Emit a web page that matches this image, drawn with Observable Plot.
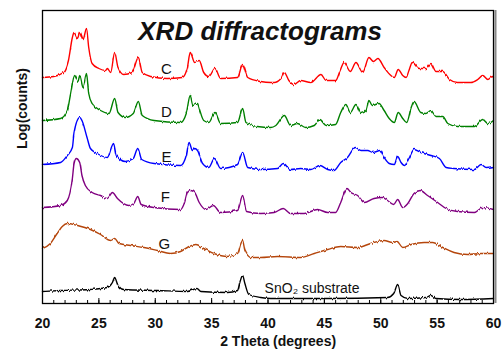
<!DOCTYPE html>
<html><head><meta charset="utf-8">
<script src="https://cdn.jsdelivr.net/npm/d3@7"></script>
<script src="https://cdn.jsdelivr.net/npm/@observablehq/plot@0.6"></script>
<style>
body{margin:0;background:#fff;}
#chart{position:relative;width:503px;height:354px;}
</style></head><body><div id="chart"></div>
<script>
// 2θ (degrees), stacked log(counts) in arbitrary units
const C = [[20,226],[21,227],[21.85,231],[22.3,243],[22.65,266],[22.8,271],[23.1,265],[23.3,271],[23.6,264],[23.9,275],[24.1,256],[24.4,240],[25,235],[25.6,233],[25.75,235],[26.05,231],[26.4,251],[26.7,236],[27.2,229],[27.95,231],[28.5,246],[28.85,231],[29.6,227],[31.05,225],[32.4,226],[32.85,236],[33.1,251],[33.5,241],[33.9,243],[34.3,231],[34.75,227],[35.3,235],[35.8,225],[37.3,226],[37.75,239],[38.2,226],[39.35,222],[40.25,221],[40.55,221],[41.15,225],[41.45,231],[41.85,223],[42.3,219],[42.9,223],[43.8,221],[44.7,229],[45.15,223],[46,223],[46.4,233],[46.75,241],[47.3,232],[47.8,241],[48.4,231],[48.95,246],[49.35,242],[49.75,245],[50.3,236],[50.9,228],[51.2,226],[51.55,234],[51.95,228],[52.25,226],[52.5,233],[52.8,241],[53.4,235],[54,235],[54.45,240],[54.9,232],[55.5,232],[56.1,224],[56.8,221],[58,221],[58.6,224],[59.05,228],[59.5,224],[59.9,227],[60,226]];
const D = [[20,183],[21.6,185],[22.2,193],[22.5,210],[22.85,228],[23.15,222],[23.3,228],[23.6,216],[23.9,230],[24.1,210],[24.4,200],[25.15,193],[25.9,190],[26.4,205],[26.7,191],[27.35,186],[28.05,190],[28.5,202],[28.85,188],[29.9,183],[32.25,181],[32.75,190],[33.1,208],[33.35,198],[33.75,200],[33.9,195],[34.3,183],[34.75,181],[35.3,191],[35.8,180],[37.3,181],[37.75,195],[38.05,181],[39.05,177],[40.25,176],[40.7,178],[41.45,188],[42,178],[42.6,180],[43.35,176],[44.1,178],[44.6,184],[45.15,178],[46,179],[46.45,191],[46.9,199],[47.3,191],[47.8,199],[48.25,190],[48.7,193],[48.95,203],[49.25,198],[49.85,200],[50.3,193],[50.75,185],[51.2,181],[51.55,191],[51.95,185],[52.3,181],[52.7,196],[52.95,202],[53.55,191],[54,190],[54.45,193],[54.9,187],[55.5,187],[55.95,180],[56.8,177],[58.3,177],[59.05,184],[59.5,180],[60,183]];
const E = [[20,139],[21.6,141],[22.2,148],[22.65,156],[22.8,171],[23.3,186],[23.5,183],[23.95,166],[24.25,155],[24.85,150],[25.75,146],[26.3,160],[26.55,148],[27.35,142],[28.05,145],[28.45,155],[28.8,144],[29.9,140],[32.25,138],[32.75,148],[33,161],[33.3,153],[33.5,155],[33.75,153],[34.2,140],[34.75,136],[35.25,145],[35.8,135],[37.3,139],[37.75,151],[38.2,136],[39.35,134],[40.85,135],[41.35,140],[42,134],[42.9,135],[43.8,134],[44.6,138],[45.3,134],[45.85,133],[46.45,141],[47.05,146],[47.75,156],[48.25,153],[48.85,153],[49.3,151],[49.95,153],[50.3,146],[50.75,140],[51.2,139],[51.5,147],[51.8,141],[52.1,138],[52.5,145],[52.95,154],[53.55,151],[54.45,148],[55.2,145],[55.8,136],[56.5,135],[58.3,134],[58.9,139],[59.35,136],[60,137]];
const F = [[20,96],[21.6,98],[22.2,103],[22.65,125],[22.8,140],[23,145],[23.3,141],[23.5,128],[23.8,118],[24.4,111],[25.15,108],[25.75,105],[26.2,111],[26.65,105],[27.65,98],[28.1,100],[28.45,107],[28.75,99],[29.9,96],[32.25,94],[32.6,101],[32.85,111],[33.15,113],[33.5,111],[33.9,101],[34.5,94],[35.15,98],[35.8,91],[37.3,93],[37.75,108],[38.1,92],[39.35,90],[40.55,91],[41.35,95],[42,90],[43.2,90],[44.4,94],[45.3,91],[46,91],[46.45,101],[47,115],[47.35,111],[47.95,108],[48.55,101],[49.4,105],[50.15,106],[50.6,103],[51.15,99],[51.5,104],[51.95,96],[52.4,100],[52.95,110],[53.5,113],[54.15,108],[55.05,101],[55.8,95],[56.8,92],[58.3,91],[59.05,96],[60,94]];
const G = [[20,55],[20.7,60],[21.3,70],[21.75,77],[22.2,80],[23.1,78],[24.25,74],[25.15,69],[26.05,63],[26.4,65],[26.8,60],[27.8,58],[29,56],[30.2,53],[31.35,50],[32.25,52],[33,57],[33.6,59],[34.3,55],[35.2,50],[36.4,47],[37.3,50],[37.6,60],[37.75,63],[37.95,53],[38.5,46],[39.35,46],[40.85,47],[42.9,46],[44.1,50],[45.3,54],[46.45,57],[47.95,56],[49.1,60],[50.3,63],[51.05,61],[51.45,62],[51.95,56],[52.7,59],[53.85,61],[54.6,61],[55.5,56],[56.5,51],[57.7,49],[58.9,50],[60,50]];
const SnO2 = [[20,12],[21.6,13],[24.25,14],[25.75,16],[26.2,21],[26.4,26],[26.7,18],[27.2,14],[30.2,13],[32.85,12],[33.7,15],[34.05,12],[36.4,11],[37.3,13],[37.5,21],[37.75,28],[37.95,20],[38.3,9],[39.35,6],[40.25,5],[42.3,5],[45.3,5],[50.6,6],[51.15,10],[51.5,19],[51.8,8],[52.4,5],[54,6],[54.45,8],[54.9,5],[57.1,4],[60,5]];

const seriesNames = ["C","D","E","F","G","SnO₂ substrate"];
const seriesColors = ["#ff0000","#008000","#0000ff","#800080","#b5460c","#000000"];
const seriesData = [C, D, E, F, G, SnO2];
const labelTheta = [31.0, 31.0, 31.0, 30.9, 30.8, 39.7];
const labelLevel = [234, 191, 146, 106, 59, 15];

const majorTicks = [20,25,30,35,40,45,50,55,60];
const minorTicks = [20,21,22,23,24,25,26,27,28,29,30,31,32,33,34,35,36,37,38,39,40,41,42,43,44,45,46,47,48,49,50,51,52,53,54,55,56,57,58,59,60];
const title = "XRD diffractograms";
const xLabel = "2 Theta (degrees)";
const yLabel = "Log(counts)";

const font = "Liberation Sans, Arial, Helvetica, sans-serif";

const lineMarks = seriesData.map((data, i) =>
  Plot.line(data, {x: d => d[0], y: d => d[1], stroke: seriesColors[i], strokeWidth: 1.4, curve: "monotone-x"})
);
const labels = seriesNames.map((n, i) => ({name: n, theta: labelTheta[i], level: labelLevel[i], last: i === seriesNames.length - 1}));

const chart = Plot.plot({
  width: 503, height: 354,
  marginLeft: 42, marginRight: 10, marginTop: 10, marginBottom: 51,
  style: {fontFamily: font, background: "#fff", overflow: "visible"},
  x: {domain: [20, 60], axis: null},
  y: {domain: [0, 293], axis: null},
  marks: [
    ...lineMarks,
    Plot.text(labels.filter(d => !d.last), {x: "theta", y: "level", text: "name", fontSize: 15, fill: "#111", textAnchor: "middle"}),
    Plot.text(labels.filter(d => d.last), {x: "theta", y: "level", text: "name", fontSize: 14, fill: "#111", textAnchor: "start"}),
    Plot.text([title], {x: 39.3, y: 272, text: d => d, fontSize: 26, fontWeight: "bold", fontStyle: "italic", fill: "#111"}),
    Plot.ruleX(minorTicks, {x: d => d, y1: 0, y2: 3, stroke: "#000", strokeWidth: 1}),
    Plot.ruleX(majorTicks, {x: d => d, y1: 0, y2: 5, stroke: "#000", strokeWidth: 1}),
    Plot.ruleX([60], {dx: 2, stroke: "#888", strokeWidth: 2}),
    Plot.frame({stroke: "#000", strokeWidth: 1.3}),
    Plot.text(majorTicks, {x: d => d, frameAnchor: "bottom", dy: 24, text: d => String(d), fontSize: 14, fontWeight: "bold", fill: "#111"}),
    Plot.text([xLabel], {x: 40.9, frameAnchor: "bottom", dy: 42, text: d => d, fontSize: 14, fontWeight: "bold", fill: "#111"}),
    Plot.text([yLabel], {frameAnchor: "left", dx: -20, dy: -8, rotate: -90, text: d => d, fontSize: 14, fontWeight: "bold", fill: "#111"})
  ]
});

// measurement-noise look: a purely visual SVG filter (vertical jitter only) on the traces
const svg = d3.select(chart);
const defs = svg.append("defs");
const filt = defs.append("filter").attr("id", "xrdnoise")
  .attr("filterUnits", "userSpaceOnUse")
  .attr("color-interpolation-filters", "sRGB")
  .attr("x", 0).attr("y", 0).attr("width", 503).attr("height", 354);
filt.append("feTurbulence").attr("type", "fractalNoise").attr("baseFrequency", "0.7 0.05").attr("numOctaves", 2).attr("seed", 7).attr("result", "n0");
filt.append("feColorMatrix").attr("in", "n0").attr("type", "matrix")
  .attr("values", "0 0 0 0 0.5  0 1 0 0 0  0 0 1 0 0  0 0 0 0 1").attr("result", "n");
filt.append("feDisplacementMap").attr("in", "SourceGraphic").attr("in2", "n").attr("scale", 3).attr("xChannelSelector", "R").attr("yChannelSelector", "G");
svg.selectAll("g[aria-label='line']").attr("filter", "url(#xrdnoise)");

document.getElementById("chart").appendChild(chart);
</script>
</body></html>
